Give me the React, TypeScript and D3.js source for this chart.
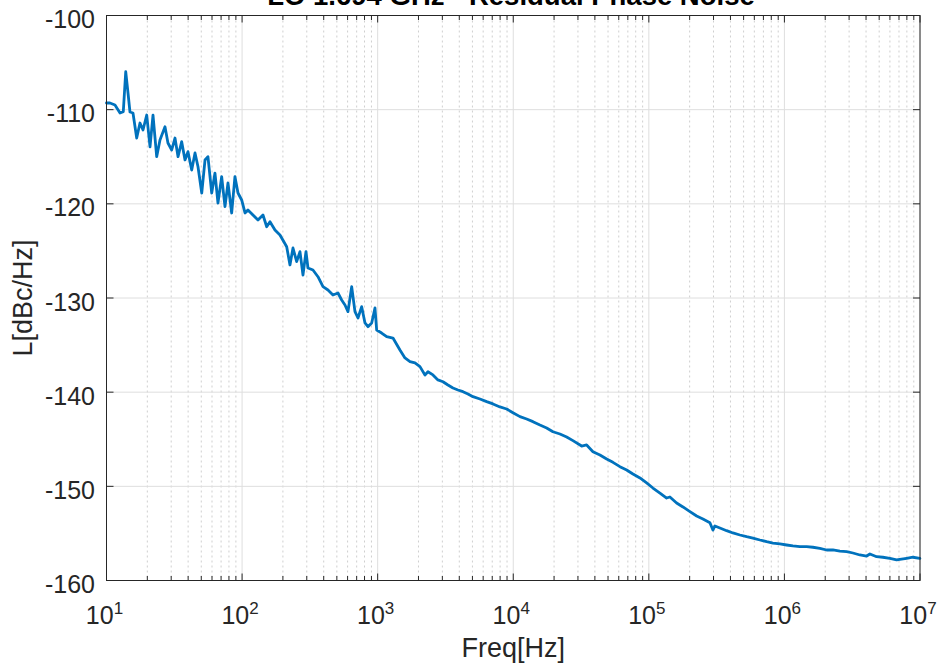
import React from "react";
import * as d3 from "d3";

const freqHz: number[] = [
  10, 10.6, 11.55, 12.58, 13.3, 13.86, 14.41, 14.9, 15.68, 16.7, 17.66, 18.59, 19.8, 20.94, 22.03,
  23.45, 24.8, 27.0, 28.4, 30.26, 32.0, 33.7, 35.86, 37.93, 39.9, 42.5, 44.96, 47.3, 50.4, 53.3,
  56.0, 59.7, 63.1, 66.4, 70.7, 74.8, 78.7, 83.8, 88.6, 93.3, 99.3, 105.1, 110.5, 120.3, 131.0,
  142.6, 151.9, 160.6, 174.8, 190.3, 213.3, 225.5, 237.4, 252.7, 267.3, 281.3, 296.0, 306.2,
  333.3, 362.8, 395.1, 430.1, 468.1, 509.6, 542.6, 574.1, 604.0, 643.2, 680.2, 715.8, 762.2,
  806.1, 848.3, 903.3, 955.2, 983.1, 1070, 1165, 1297, 1460, 1590, 1731, 1884, 2051, 2233, 2349,
  2557, 2784, 3031, 3299, 3592, 3910, 4257, 4634, 5045, 5681, 6366, 7086, 7979, 8942, 9949,
  11205, 12556, 13972, 15736, 17634, 19628, 22103, 24767, 27560, 31947, 34780, 38706, 43593,
  48853, 54361, 61225, 68604, 76348, 85986, 96340, 107200, 120770, 135300, 143000, 160300,
  178500, 201000, 225200, 250600, 282200, 296900, 307200, 334400, 374700, 417100, 469700,
  526200, 585900, 659700, 739300, 822800, 926500, 1.038e6, 1.155e6, 1.301e6, 1.458e6, 1.623e6,
  1.827e6, 2.048e6, 2.279e6, 2.567e6, 2.876e6, 3.201e6, 3.605e6, 4.04e6, 4.272e6, 4.786e6,
  5.326e6, 5.998e6, 6.722e6, 7.109e6, 7.965e6, 8.863e6, 9.98e6,
];

const phaseNoiseDbc: number[] = [
  -109.29, -109.29, -109.5, -110.35, -110.22, -105.97, -108.23, -110.25, -110.35, -113.01, -111.42,
  -112.16, -110.57, -113.96, -110.57, -114.99, -113.22, -111.81, -113.54, -114.28, -113.01,
  -114.99, -113.4, -115.34, -114.46, -116.41, -114.6, -116.06, -118.85, -115.34, -114.99,
  -118.85, -116.73, -119.91, -117.12, -120.3, -117.79, -120.97, -117.12, -118.85, -119.59,
  -120.97, -120.65, -121.19, -121.72, -121.19, -122.43, -121.9, -122.78, -123.31, -124.55,
  -126.49, -124.69, -126.14, -125.08, -127.56, -125.08, -126.81, -127.03, -127.74, -128.8,
  -129.15, -129.68, -129.47, -130.21, -130.74, -131.45, -128.8, -131.45, -132.12, -130.92,
  -132.65, -133.05, -132.65, -131.06, -133.4, -133.72, -134.11, -134.25, -135.52, -136.37,
  -136.76, -136.9, -137.29, -138.17, -137.83, -138.17, -138.7, -138.89, -139.24, -139.56,
  -139.77, -139.95, -140.19, -140.48, -140.73, -141.01, -141.25, -141.57, -141.79, -142.18,
  -142.6, -142.85, -143.13, -143.49, -143.8, -144.2, -144.44, -144.76, -145.15, -145.72,
  -145.61, -146.32, -146.67, -147.1, -147.45, -147.91, -148.26, -148.69, -149.11, -149.64,
  -150.18, -150.71, -151.24, -151.13, -151.77, -152.19, -152.69, -153.15, -153.47, -153.86,
  -154.64, -154.21, -154.42, -154.71, -154.95, -155.17, -155.35, -155.49, -155.7, -155.88,
  -156.02, -156.12, -156.23, -156.33, -156.41, -156.41, -156.47, -156.58, -156.76, -156.76,
  -156.87, -156.94, -157.08, -157.29, -157.4, -157.18, -157.47, -157.53, -157.64, -157.82,
  -157.75, -157.64, -157.53, -157.64,
];

const xDecadeExponents: number[] = [1, 2, 3, 4, 5, 6, 7];
const yTicks: number[] = [-160, -150, -140, -130, -120, -110, -100];
const minorMultipliers: number[] = [2, 3, 4, 5, 6, 7, 8, 9];

const titleText = "LO 1.694 GHz - Residual Phase Noise";
const xLabelText = "Freq[Hz]";
const yLabelText = "L[dBc/Hz]";

const W = 943;
const H = 664;
const left = 106.5;
const right = 920;
const top = 15.5;
const bottom = 580.5;
const axisColor = "#262626";
const font = "'Liberation Sans', Arial, Helvetica, sans-serif";

export default function App() {
  const x = d3.scaleLog().domain([10, 1e7]).range([left, right]);
  const y = d3.scaleLinear().domain([-160, -100]).range([bottom, top]);

  const pts: [number, number][] = freqHz.map((f, i) => [f, phaseNoiseDbc[i]]);
  const line = d3
    .line<[number, number]>()
    .x((d) => x(d[0]))
    .y((d) => y(d[1]));

  const minorTicks: number[] = [];
  xDecadeExponents.slice(0, -1).forEach((e) => {
    minorMultipliers.forEach((m) => minorTicks.push(m * Math.pow(10, e)));
  });

  return (
    <svg
      width={W}
      height={H}
      style={{ position: "absolute", left: 0, top: 0, background: "#fff" }}
      fontFamily={font}
    >
      <rect x={0} y={0} width={W} height={H} fill="#ffffff" />
      {/* minor grid */}
      {minorTicks.map((f) => (
        <line
          key={"mg" + f}
          x1={x(f)}
          x2={x(f)}
          y1={top}
          y2={bottom}
          stroke="#cfcfcf"
          strokeWidth={1}
          strokeDasharray="2,3"
        />
      ))}
      {/* major grid */}
      {xDecadeExponents.map((e) => (
        <line
          key={"xg" + e}
          x1={x(Math.pow(10, e))}
          x2={x(Math.pow(10, e))}
          y1={top}
          y2={bottom}
          stroke="#dedede"
          strokeWidth={1}
        />
      ))}
      {yTicks.map((t) => (
        <line
          key={"yg" + t}
          x1={left}
          x2={right}
          y1={y(t)}
          y2={y(t)}
          stroke="#dedede"
          strokeWidth={1}
        />
      ))}

      {/* data */}
      <path
        d={line(pts) || ""}
        fill="none"
        stroke="#0072BD"
        strokeWidth={2.8}
        strokeLinejoin="round"
        strokeLinecap="round"
      />

      {/* box */}
      <rect
        x={left}
        y={top}
        width={right - left}
        height={bottom - top}
        fill="none"
        stroke={axisColor}
        strokeWidth={1}
      />

      {/* x ticks */}
      {minorTicks.map((f) => (
        <g key={"mt" + f}>
          <line x1={x(f)} x2={x(f)} y1={bottom} y2={bottom - 4.5} stroke={axisColor} />
          <line x1={x(f)} x2={x(f)} y1={top} y2={top + 4.5} stroke={axisColor} />
        </g>
      ))}
      {xDecadeExponents.map((e) => (
        <g key={"xt" + e}>
          <line
            x1={x(Math.pow(10, e))}
            x2={x(Math.pow(10, e))}
            y1={bottom}
            y2={bottom - 7}
            stroke={axisColor}
          />
          <line
            x1={x(Math.pow(10, e))}
            x2={x(Math.pow(10, e))}
            y1={top}
            y2={top + 7}
            stroke={axisColor}
          />
          <text
            x={x(Math.pow(10, e)) - 2}
            y={623.5}
            fontSize={25}
            fill={axisColor}
            textAnchor="middle"
          >
            10
            <tspan fontSize={17} dy={-10}>
              {String(e)}
            </tspan>
          </text>
        </g>
      ))}

      {/* y ticks */}
      {yTicks.map((t) => (
        <g key={"yt" + t}>
          <line x1={left} x2={left + 7} y1={y(t)} y2={y(t)} stroke={axisColor} />
          <line x1={right} x2={right - 7} y1={y(t)} y2={y(t)} stroke={axisColor} />
          <text
            x={95}
            y={y(t) + 12.5}
            fontSize={25}
            fill={axisColor}
            textAnchor="end"
          >
            {String(t)}
          </text>
        </g>
      ))}

      {/* labels */}
      <text
        x={(left + right) / 2}
        y={657}
        fontSize={27}
        fill={axisColor}
        textAnchor="middle"
      >
        {xLabelText}
      </text>
      <text
        transform={`translate(32, ${(top + bottom) / 2}) rotate(-90)`}
        fontSize={27}
        fill={axisColor}
        textAnchor="middle"
      >
        {yLabelText}
      </text>
      <text
        x={511}
        y={5}
        fontSize={27.5}
        fontWeight="bold"
        fill="#000"
        textAnchor="middle"
      >
        {titleText}
      </text>
    </svg>
  );
}
